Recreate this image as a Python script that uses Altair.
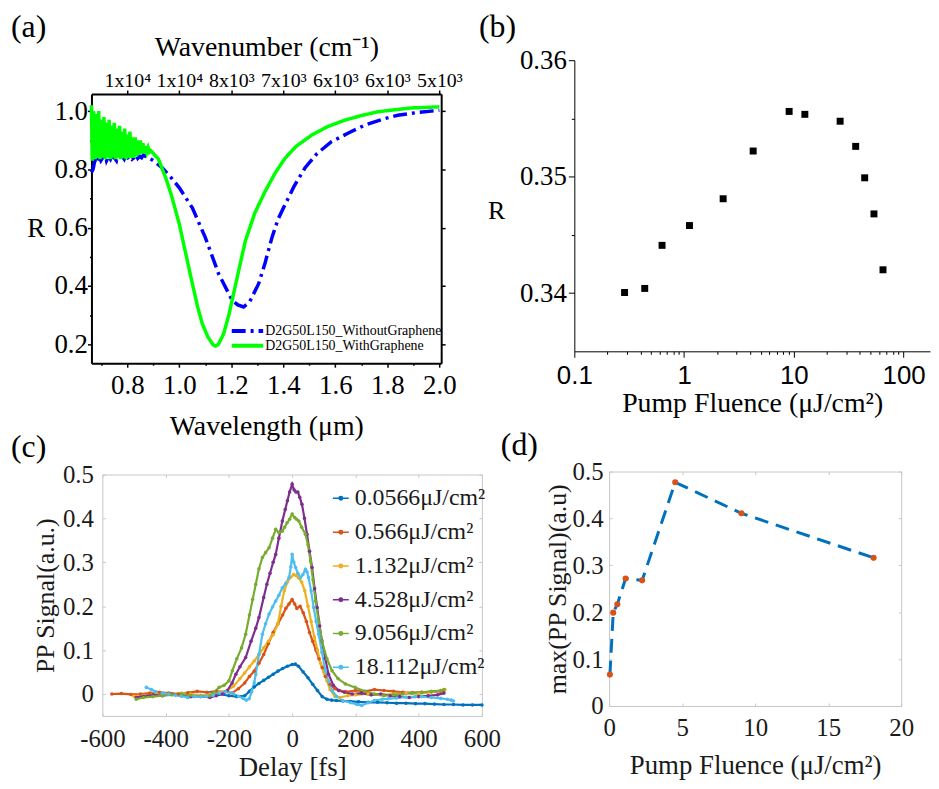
import altair as alt
import pandas as pd

SERIF = "Liberation Serif"
SANS = "Liberation Sans"

# ---------------- Panel (a) data ----------------
A_SERIES = ["D2G50L150_WithoutGraphene", "D2G50L150_WithGraphene"]
A_WL_WITHOUT = [0.662, 0.668, 0.675, 0.682, 0.690, 0.698, 0.705, 0.712, 0.720, 0.728,
                0.735, 0.742, 0.750, 0.758, 0.765, 0.772, 0.780, 0.788, 0.795, 0.802,
                0.810, 0.818, 0.825, 0.832, 0.840, 0.848, 0.855, 0.862, 0.870, 0.880,
                0.900, 0.935, 0.970, 1.000, 1.050, 1.100, 1.151, 1.203, 1.225, 1.247,
                1.270, 1.305, 1.330, 1.356, 1.380, 1.407, 1.440, 1.483, 1.530, 1.585,
                1.650, 1.713, 1.780, 1.840, 1.920, 2.000]
A_R_WITHOUT = [0.79, 0.80, 0.83, 0.82, 0.845, 0.83, 0.84, 0.86, 0.83, 0.845,
               0.835, 0.85, 0.84, 0.83, 0.855, 0.84, 0.845, 0.835, 0.85, 0.84,
               0.845, 0.835, 0.84, 0.85, 0.838, 0.845, 0.84, 0.85, 0.845, 0.842,
               0.83, 0.805, 0.77, 0.737, 0.668, 0.566, 0.442, 0.351, 0.335, 0.328,
               0.345, 0.408, 0.48, 0.566, 0.63, 0.68, 0.74, 0.805, 0.855, 0.895,
               0.925, 0.952, 0.972, 0.986, 0.996, 1.003]
A_WL_WITH = [0.662, 0.665, 0.670, 0.675, 0.680, 0.685, 0.690, 0.695, 0.700, 0.705,
             0.710, 0.715, 0.720, 0.725, 0.730, 0.735, 0.740, 0.745, 0.750, 0.755,
             0.760, 0.765, 0.770, 0.775, 0.780, 0.785, 0.790, 0.795, 0.800, 0.805,
             0.810, 0.815, 0.820, 0.825, 0.830, 0.835, 0.840, 0.845, 0.850, 0.855,
             0.860, 0.865, 0.870, 0.875, 0.880, 0.885, 0.890, 0.895,
             0.900, 0.920, 0.935, 0.950, 0.970, 1.000, 1.020, 1.050, 1.070, 1.088,
             1.110, 1.130, 1.139, 1.150, 1.170, 1.190, 1.203, 1.230, 1.254, 1.290,
             1.330, 1.370, 1.407, 1.450, 1.509, 1.570, 1.636, 1.700, 1.764, 1.830,
             1.891, 1.950, 2.000]
A_R_WITH = [1.02, 0.83, 1.00, 0.835, 0.99, 0.84, 1.00, 0.835, 0.97, 0.84,
            0.98, 0.835, 0.96, 0.84, 0.97, 0.835, 0.95, 0.84, 0.96, 0.835,
            0.94, 0.84, 0.95, 0.835, 0.93, 0.84, 0.94, 0.835, 0.92, 0.84,
            0.93, 0.84, 0.91, 0.84, 0.91, 0.845, 0.90, 0.85, 0.90, 0.855,
            0.89, 0.855, 0.88, 0.86, 0.875, 0.86, 0.865, 0.86,
            0.855, 0.835, 0.80, 0.765, 0.71, 0.612, 0.53, 0.408, 0.33, 0.271,
            0.225, 0.198, 0.194, 0.20, 0.235, 0.30, 0.351, 0.46, 0.555, 0.65,
            0.725, 0.79, 0.839, 0.88, 0.918, 0.947, 0.969, 0.985, 0.998, 1.005,
            1.011, 1.013, 1.015]
A_X_TICKS = [0.8, 1.0, 1.2, 1.4, 1.6, 1.8, 2.0]
A_X_MINOR = [0.7, 0.9, 1.1, 1.3, 1.5, 1.7, 1.9]
A_Y_TICKS = [0.2, 0.4, 0.6, 0.8, 1.0]
A_Y_MINOR = [0.3, 0.5, 0.7, 0.9]
A_TOP_LABELS = ["1x10⁴", "1x10⁴", "8x10³", "7x10³", "6x10³", "6x10³", "5x10³"]

# ---------------- Panel (b) data ----------------
B_FLUENCE = [0.287, 0.438, 0.63, 1.12, 2.27, 4.26, 9.06, 12.6, 26.4, 36.6, 44.2, 53.7, 64.9]
B_R = [0.34005, 0.3404, 0.3441, 0.3458, 0.3481, 0.3522, 0.3556, 0.35535, 0.35476,
       0.3526, 0.3499, 0.3468, 0.3420]
B_X_TICKS = [0.1, 1, 10, 100]
B_X_MINOR = [0.2, 0.3, 0.4, 0.5, 0.6, 0.7, 0.8, 0.9, 2, 3, 4, 5, 6, 7, 8, 9,
             20, 30, 40, 50, 60, 70, 80, 90]
B_Y_TICKS = [0.34, 0.35, 0.36]
B_Y_MINOR = [0.345, 0.355]

# ---------------- Panel (c) data ----------------
C_LABELS = ["0.0566μJ/cm²", "0.566μJ/cm²", "1.132μJ/cm²", "4.528μJ/cm²",
            "9.056μJ/cm²", "18.112μJ/cm²"]
C_COLORS = ["#0072BD", "#D95319", "#EDB120", "#7E2F8E", "#77AC30", "#4DBEEE"]
C_T_1 = [-260, -230, -200, -175, -150, -135, -120, -105, -90, -75, -60, -45, -30, -15, 0,
         10, 20, 35, 50, 65, 80, 95, 110, 125, 140, 160, 185, 210, 240, 270, 300, 330,
         360, 390, 420, 450, 480, 510, 540, 570, 600]
C_S_1 = [0.002, 0.0, -0.004, -0.006, -0.004, 0.006, 0.016, 0.024, 0.031, 0.038, 0.045,
         0.052, 0.058, 0.063, 0.067, 0.068, 0.063, 0.05, 0.037, 0.022, 0.008, -0.006,
         -0.012, -0.014, -0.015, -0.016, -0.017, -0.018, -0.019, -0.019, -0.02, -0.021,
         -0.021, -0.022, -0.022, -0.023, -0.024, -0.024, -0.025, -0.025, -0.025]
C_T_2 = [-570, -540, -510, -480, -450, -420, -390, -360, -330, -300, -270, -240, -210,
         -190, -170, -150, -135, -120, -105, -90, -75, -60, -45, -30, -20, -10, 0,
         8, 15, 25, 35, 45, 55, 65, 75, 85, 95, 105,
         120, 135, 150, 170, 200, 230, 260, 290, 320, 350, 380, 410, 440, 470, 480]
C_S_2 = [0.0, 0.001, -0.001, 0.0, 0.002, 0.004, 0.002, 0.0, 0.003, 0.006, 0.004, 0.006, 0.005,
         0.002, 0.012, 0.025, 0.04, 0.052, 0.07, 0.09, 0.115, 0.14, 0.16, 0.18, 0.195, 0.205, 0.215,
         0.205, 0.195, 0.2, 0.185, 0.165, 0.14, 0.12, 0.1, 0.08, 0.06, 0.04,
         0.022, 0.012, 0.008, 0.005, 0.008, 0.006, 0.01, 0.008, 0.006, 0.004, 0.003, 0.004,
         0.005, 0.006, 0.008]
C_T_3 = [-500, -470, -440, -410, -380, -350, -320, -290, -260, -230,
         -205, -185, -165, -150, -135, -120, -105, -90, -75, -60,
         -45, -35, -25, -15, -5, 5, 12, 20, 30, 40,
         50, 60, 70, 80, 90, 100, 110, 120, 135, 150,
         175, 200, 240, 280, 320, 360, 400, 440, 470, 483]
C_S_3 = [-0.005, -0.003, 0.0, -0.002, 0.0, 0.002, 0.0, -0.003, 0.0, 0.004,
         0.008, 0.018, 0.035, 0.048, 0.062, 0.075, 0.09, 0.105, 0.12, 0.135,
         0.16, 0.2, 0.235, 0.255, 0.266, 0.272, 0.27, 0.265, 0.255, 0.235,
         0.2, 0.165, 0.13, 0.1, 0.07, 0.05, 0.03, 0.01, -0.006, -0.008,
         -0.004, -0.002, 0.0, -0.002, 0.0, 0.002, 0.0, 0.004, 0.008, 0.01]
C_T_4 = [-493, -470, -440, -410, -380, -350, -320, -290, -260, -240,
         -220, -205, -190, -178, -165, -147, -130, -115, -105, -90,
         -80, -70, -60, -52, -42, -31, -22, -15, -8, 0,
         6, 12, 18, 24, 31, 39, 47, 55, 63, 71,
         79, 87, 94, 105, 115, 130, 147, 165, 190, 220,
         250, 280, 310, 340, 370, 400, 430, 460, 480]
C_S_4 = [-0.008, -0.005, -0.002, -0.004, 0.0, -0.002, -0.006, -0.005, -0.008, -0.004,
         0.0, 0.008, 0.025, 0.045, 0.062, 0.083, 0.12, 0.15, 0.174, 0.22,
         0.25, 0.275, 0.3, 0.318, 0.355, 0.394, 0.42, 0.44, 0.46, 0.478,
         0.465, 0.46, 0.46, 0.448, 0.432, 0.4, 0.364, 0.325, 0.288, 0.24,
         0.197, 0.155, 0.121, 0.08, 0.045, 0.02, 0.008, 0.004, 0.0, 0.002,
         -0.002, 0.0, -0.004, -0.006, -0.008, -0.006, -0.004, -0.002, 0.002]
C_T_5 = [-493, -470, -440, -410, -380, -350, -320, -290, -260,
         -245, -231, -215, -200, -189, -175, -160, -147, -135, -125,
         -115, -105, -94, -84, -73, -62, -52, -42, -31, -24,
         -16, -8, 0, 8, 14, 21, 30, 42, 50, 58,
         66, 74, 84, 94, 110, 126, 145, 168, 199, 230,
         260, 290, 320, 350, 380, 410, 440, 470, 480]
C_S_5 = [-0.012, -0.008, -0.006, -0.004, -0.002, 0.0, -0.003, -0.006, -0.004,
         0.005, 0.015, 0.02, 0.03, 0.053, 0.08, 0.105, 0.136, 0.18, 0.215,
         0.25, 0.285, 0.311, 0.322, 0.333, 0.355, 0.375, 0.368, 0.371, 0.38,
         0.39, 0.398, 0.41, 0.402, 0.398, 0.394, 0.38, 0.364, 0.34, 0.303,
         0.26, 0.212, 0.165, 0.121, 0.08, 0.053, 0.035, 0.023, 0.015, 0.006,
         0.0, -0.004, -0.002, 0.0, 0.002, 0.004, 0.006, 0.008, 0.01]
C_T_6 = [-461, -445, -430, -410, -390, -370, -350, -330, -310, -290,
         -270, -250, -230, -210, -190, -170, -155, -145, -136, -128,
         -120, -115, -105, -94, -84, -73, -62, -52, -42, -31,
         -20, -10, -4, 0, 5, 11, 18, 26, 34, 42,
         47, 52, 60, 68, 76, 84, 94, 105, 115, 126,
         140, 160, 185, 205, 220, 240, 260, 285, 304, 330,
         360, 390, 409, 440, 470, 490, 503, 510]
C_S_6 = [0.015, 0.01, 0.005, 0.002, 0.0, -0.003, -0.005, -0.008, -0.006, -0.006,
         -0.005, -0.003, 0.002, 0.005, 0.002, -0.005, -0.01, -0.014, -0.011, 0.005,
         0.025, 0.045, 0.09, 0.136, 0.16, 0.182, 0.198, 0.212, 0.225, 0.242,
         0.252, 0.265, 0.29, 0.318, 0.3, 0.288, 0.275, 0.265, 0.272, 0.284,
         0.278, 0.265, 0.235, 0.197, 0.165, 0.136, 0.095, 0.053, 0.028, 0.008,
         -0.005, -0.015, -0.02, -0.024, -0.026, -0.02, -0.015, -0.012, -0.011, -0.009,
         -0.007, -0.006, -0.006, -0.008, -0.01, -0.012, -0.014, -0.016]
C_X_TICKS = [-600, -400, -200, 0, 200, 400, 600]
C_Y_TICKS = [0, 0.1, 0.2, 0.3, 0.4, 0.5]

# ---------------- Panel (d) data ----------------
D_FLUENCE = [0.0566, 0.283, 0.566, 1.132, 2.264, 4.528, 9.056, 18.112]
D_MAX = [0.067, 0.199, 0.217, 0.272, 0.268, 0.477, 0.411, 0.316]
D_X_TICKS = [0, 5, 10, 15, 20]
D_Y_TICKS = [0, 0.1, 0.2, 0.3, 0.4, 0.5]

# ---------------- tables ----------------
df_a = pd.concat([
    pd.DataFrame({"wl": A_WL_WITHOUT, "R": A_R_WITHOUT, "series": A_SERIES[0]}),
    pd.DataFrame({"wl": A_WL_WITH, "R": A_R_WITH, "series": A_SERIES[1]}),
], ignore_index=True)
df_b = pd.DataFrame({"F": B_FLUENCE, "R": B_R})
c_ts = [C_T_1, C_T_2, C_T_3, C_T_4, C_T_5, C_T_6]
c_ss = [C_S_1, C_S_2, C_S_3, C_S_4, C_S_5, C_S_6]
df_c = pd.concat([pd.DataFrame({"t": t, "s": s, "label": lab, "k": i})
                  for i, (t, s, lab) in enumerate(zip(c_ts, c_ss, C_LABELS))],
                 ignore_index=True)
df_d = pd.DataFrame({"F": D_FLUENCE, "m": D_MAX})
one = pd.DataFrame({"k": [0]})

# ---------------- layout (one canvas, each panel gets its own scale ranges) ----------------
W, H = 929, 781
AX0, AX1, AYT, AYB = 84, 436, 84, 355      # panel (a) plot box
BX0, BX1, BYT, BYB = 570, 928, 50, 343     # panel (b)
CX0, CX1, CYT, CYB = 95, 477, 467, 710     # panel (c)
DX0, DX1, DYT, DYB = 605, 899, 464, 700    # panel (d)
FRAME = "#c8c8c8"
TXT = "#1a1a1a"


def axis(orient, pos, values, labels=False, tick=0, tcolor="black", twidth=1.5,
         domain=False, dcolor="black", dwidth=1.0, **kw):
    # offset that puts the axis line at canvas coordinate `pos`
    if orient == "bottom":
        off = pos - H
    elif orient == "top":
        off = -pos
    elif orient == "left":
        off = -pos
    else:
        off = pos - W
    args = dict(orient=orient, offset=off, values=values, grid=False, labels=labels,
                labelFlush=False, labelOverlap=False, domain=domain)
    if tick > 0:
        args.update(ticks=True, tickSize=tick, tickColor=tcolor, tickWidth=twidth)
    else:
        args.update(ticks=False, tickSize=0)
    if domain:
        args.update(domainColor=dcolor, domainWidth=dwidth)
    if "title" not in kw:
        args["title"] = None
    else:
        args.update(titleFontWeight="normal")
    args.update(kw)
    return alt.Axis(**args)


def sc(domain, rng, **kw):
    return alt.Scale(domain=domain, range=rng, nice=False, zero=False, **kw)


def panel_label(txt, x, y):
    return alt.Chart(one).mark_text(text=txt, font=SERIF, fontSize=32, align="left",
                                    baseline="top", color="black").encode(
        x=alt.value(x), y=alt.value(y))


# ================= Panel (a) =================
xa = sc([0.662, 2.007], [AX0, AX1])
ya = sc([0.135, 1.059], [AYB, AYT])
top_expr = "[" + ",".join("'%s'" % s for s in A_TOP_LABELS) + "][round((datum.value - 0.8) / 0.2)]"
leg_a = alt.Legend(title=None, orient="none", legendX=223, legendY=315, symbolType="stroke",
                   symbolSize=1000, symbolStrokeWidth=4, labelFont=SERIF, labelFontSize=14,
                   labelColor="black", labelLimit=400, labelOffset=0, clipHeight=15,
                   rowPadding=0, padding=0)
a_lines = alt.Chart(df_a).mark_line(strokeWidth=3.5).encode(
    x=alt.X("wl:Q", scale=xa, axis=axis(
        "bottom", AYB, A_X_TICKS, labels=True, tick=4, domain=True, dwidth=2,
        format=".1f", labelFont=SERIF, labelFontSize=27, labelColor="black", labelPadding=5,
        title="Wavelength (μm)", titleFont=SERIF, titleFontSize=28, titleColor="black",
        titlePadding=15)),
    y=alt.Y("R:Q", scale=ya, axis=axis(
        "left", AX0, A_Y_TICKS, labels=True, tick=4, domain=True, dwidth=2,
        format=".1f", labelFont=SERIF, labelFontSize=27, labelColor="black", labelPadding=0,
        title="R", titleFont=SERIF, titleFontSize=27, titleColor="black", titleAngle=0,
        titleAlign="right", titleBaseline="middle", titleX=-47, titleY=219)),
    color=alt.Color("series:N", scale=alt.Scale(domain=A_SERIES, range=["#0000ff", "#00ff00"]),
                    legend=leg_a),
    strokeDash=alt.StrokeDash("series:N", scale=alt.Scale(domain=A_SERIES,
                                                          range=[[14, 5, 3, 5], [1, 0]]),
                              legend=leg_a),
)
a_top = alt.Chart(df_a).mark_line(opacity=0).encode(
    x=alt.X("wl:Q", scale=xa, axis=axis(
        "top", AYT, A_X_TICKS, labels=True, tick=4, domain=True, dwidth=2,
        labelExpr=top_expr, labelFont=SERIF, labelFontSize=20, labelColor="black",
        labelPadding=0, title="Wavenumber (cm⁻¹)", titleFont=SERIF, titleFontSize=28,
        titleColor="black", titlePadding=9)),
    y=alt.Y("R:Q", scale=ya, axis=axis("right", AX1, A_Y_TICKS, tick=4, domain=True, dwidth=2)),
)
a_minor = alt.Chart(df_a).mark_line(opacity=0).encode(
    x=alt.X("wl:Q", scale=xa, axis=axis("bottom", AYB, A_X_MINOR, tick=2)),
    y=alt.Y("R:Q", scale=ya, axis=axis("left", AX0, A_Y_MINOR, tick=2)),
)

# ================= Panel (b) =================
xb = sc([0.1, 174], [BX0, BX1], type="log")
yb = sc([0.335, 0.36], [BYB, BYT])
b_pts = alt.Chart(df_b).mark_square(size=49, color="black", opacity=1).encode(
    x=alt.X("F:Q", scale=xb, axis=axis(
        "bottom", BYB, B_X_TICKS, labels=True, tick=6, twidth=1, domain=True,
        format="~g", labelFont=SANS, labelFontSize=26, labelColor="black", labelPadding=5,
        title="Pump Fluence (μJ/cm²)", titleFont=SERIF, titleFontSize=28,
        titleColor="black", titlePadding=2)),
    y=alt.Y("R:Q", scale=yb, axis=axis(
        "left", BX0, B_Y_TICKS, labels=True, tick=6, twidth=1, domain=True,
        format=".2f", labelFont=SERIF, labelFontSize=27, labelColor="black", labelPadding=2,
        title="R", titleFont=SERIF, titleFontSize=26, titleColor="black", titleAngle=0,
        titleAlign="right", titleBaseline="middle", titleX=-70, titleY=201)),
)
b_minor = alt.Chart(df_b).mark_point(opacity=0).encode(
    x=alt.X("F:Q", scale=xb, axis=axis("bottom", BYB, B_X_MINOR, tick=3, twidth=1)),
    y=alt.Y("R:Q", scale=yb, axis=axis("left", BX0, B_Y_MINOR, tick=3, twidth=1)),
)

# ================= Panel (c) =================
xc = sc([-600, 600], [CX0, CX1])
yc = sc([-0.05, 0.5], [CYB, CYT])
SYM = "M-1,0H1M0.22,0A0.22,0.22,0,1,1,-0.22,0A0.22,0.22,0,1,1,0.22,0"
c_lines = alt.Chart(df_c).mark_line(
    strokeWidth=2.2, point=alt.OverlayMarkDef(filled=True, size=13)).encode(
    x=alt.X("t:Q", scale=xc, axis=axis(
        "bottom", CYB, C_X_TICKS, labels=True, domain=True, dcolor=FRAME,
        labelExpr="'' + datum.value", labelFont=SERIF, labelFontSize=25, labelColor=TXT,
        labelPadding=11, title="Delay [fs]", titleFont=SERIF, titleFontSize=27,
        titleColor=TXT, titlePadding=3)),
    y=alt.Y("s:Q", scale=yc, axis=axis(
        "left", CX0, C_Y_TICKS, labels=True, domain=True, dcolor=FRAME,
        format="~g", labelFont=SERIF, labelFontSize=25, labelColor=TXT, labelPadding=9,
        title="PP Signal(a.u.)", titleFont=SERIF, titleFontSize=26, titleColor=TXT,
        titlePadding=4)),
    color=alt.Color("label:N", scale=alt.Scale(domain=C_LABELS, range=C_COLORS),
                    legend=alt.Legend(
                        title=None, orient="none", legendX=323, legendY=474, symbolType=SYM,
                        symbolSize=256, symbolStrokeWidth=1.5, labelFont=SERIF,
                        labelFontSize=24, labelColor=TXT, labelLimit=300, labelOffset=2,
                        clipHeight=34, rowPadding=0, padding=0)),
    detail="k:N",
)
c_t1 = alt.Chart(df_c).mark_point(opacity=0).encode(
    x=alt.X("t:Q", scale=xc, axis=axis("top", CYB, C_X_TICKS, tick=3, tcolor=FRAME, twidth=1)),
    y=alt.Y("s:Q", scale=yc, axis=axis("right", CX0, C_Y_TICKS, tick=3, tcolor=FRAME, twidth=1)),
)
c_t2 = alt.Chart(df_c).mark_point(opacity=0).encode(
    x=alt.X("t:Q", scale=xc, axis=axis("bottom", CYT, C_X_TICKS, tick=3, tcolor=FRAME,
                                       twidth=1, domain=True, dcolor=FRAME)),
    y=alt.Y("s:Q", scale=yc, axis=axis("left", CX1, C_Y_TICKS, tick=3, tcolor=FRAME,
                                       twidth=1, domain=True, dcolor=FRAME)),
)

# ================= Panel (d) =================
xd = sc([0, 20], [DX0, DX1])
yd = sc([0, 0.5], [DYB, DYT])
d_line = alt.Chart(df_d).mark_line(strokeWidth=3, strokeDash=[14, 8], color="#0072BD").encode(
    x=alt.X("F:Q", scale=xd, axis=axis(
        "bottom", DYB, D_X_TICKS, labels=True, domain=True, dcolor=FRAME,
        format="~g", labelFont=SERIF, labelFontSize=25, labelColor=TXT, labelPadding=10,
        title="Pump Fluence (μJ/cm²)", titleFont=SERIF, titleFontSize=27,
        titleColor=TXT, titlePadding=12)),
    y=alt.Y("m:Q", scale=yd, axis=axis(
        "left", DX0, D_Y_TICKS, labels=True, domain=True, dcolor=FRAME,
        format="~g", labelFont=SERIF, labelFontSize=25, labelColor=TXT, labelPadding=6,
        title="max(PP Signal)(a.u)", titleFont=SERIF, titleFontSize=26, titleColor=TXT,
        titlePadding=2)),
)
d_pts = alt.Chart(df_d).mark_circle(size=38, color="#D95319", opacity=1).encode(
    x=alt.X("F:Q", scale=xd, axis=None),
    y=alt.Y("m:Q", scale=yd, axis=None),
)
d_t1 = alt.Chart(df_d).mark_point(opacity=0).encode(
    x=alt.X("F:Q", scale=xd, axis=axis("top", DYB, D_X_TICKS, tick=3, tcolor=FRAME, twidth=1)),
    y=alt.Y("m:Q", scale=yd, axis=axis("right", DX0, D_Y_TICKS, tick=3, tcolor=FRAME, twidth=1)),
)
d_t2 = alt.Chart(df_d).mark_point(opacity=0).encode(
    x=alt.X("F:Q", scale=xd, axis=axis("bottom", DYT, D_X_TICKS, tick=3, tcolor=FRAME,
                                       twidth=1, domain=True, dcolor=FRAME)),
    y=alt.Y("m:Q", scale=yd, axis=axis("left", DX1, D_Y_TICKS, tick=3, tcolor=FRAME,
                                       twidth=1, domain=True, dcolor=FRAME)),
)

chart = alt.layer(
    a_lines, a_top, a_minor,
    b_pts, b_minor,
    c_lines, c_t1, c_t2,
    d_line, d_pts, d_t1, d_t2,
    panel_label("(a)", 3, 2), panel_label("(b)", 474, 2),
    panel_label("(c)", 3, 424), panel_label("(d)", 496, 422),
).resolve_scale(
    x="independent", y="independent", color="independent", strokeDash="independent"
).resolve_axis(x="independent", y="independent").resolve_legend(
    color="independent", strokeDash="independent"
).properties(
    width=W, height=H, padding=0, autosize=alt.AutoSizeParams(type="none"),
    background="white", view=alt.ViewBackground(stroke="transparent")
).configure(font=SERIF)

chart.save("out.html", embed_options={"renderer": "svg", "actions": False})
